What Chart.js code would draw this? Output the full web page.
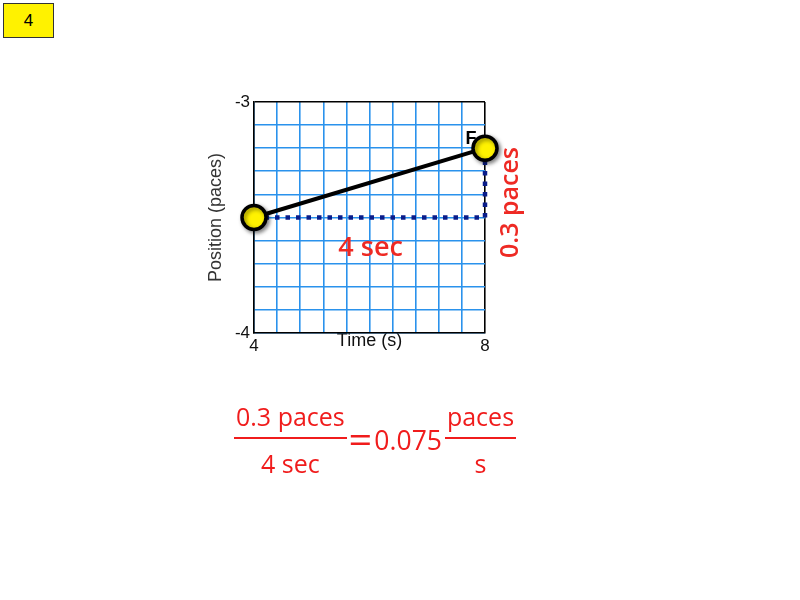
<!DOCTYPE html>
<html>
<head>
<meta charset="utf-8">
<script src="https://cdn.jsdelivr.net/npm/chart.js@4.4.1/dist/chart.umd.min.js"></script>
<style>
    body { margin: 0; background: #fff; }
    #wrap { position: relative; width: 800px; height: 600px; overflow: hidden; }
    #wrap canvas { position: absolute; left: 0; top: 0; }
    .badge {
        position: absolute; left: 3px; top: 3px; width: 51px; height: 35px;
        background: #fff200; border: 1px solid #333; box-sizing: border-box;
        font: 17px "Liberation Sans", Arial, sans-serif; color: #000;
        display: flex; align-items: center; justify-content: center;
    }
    .formula {
        position: absolute; left: 234px; top: 404px; display: flex; align-items: center;
        color: #f01c1c; font: 25px "Open Sans", sans-serif; line-height: 1;
    }
    .frac { display: flex; flex-direction: column; align-items: center; }
    .frac .num { padding: 0 2px 8px; border-bottom: 2px solid #f01c1c; }
    .frac .den { padding-top: 12px; }
    .eq { margin: 0 2px 0 3px; font-size: 36px; font-weight: 400; transform: scaleX(1.15); }
    .val { margin-left: 2px; margin-right: 3px; font-size: 26.5px; }
</style>
</head>
<body>
<div id="wrap">
    <canvas id="motionchart" width="800" height="600"></canvas>
    <div class="badge">4</div>
    <div class="formula">
        <div class="frac"><span class="num">0.3 paces</span><span class="den">4 sec</span></div>
        <span class="eq">=</span><span class="val">0.075</span>
        <div class="frac"><span class="num">paces</span><span class="den">s</span></div>
    </div>
</div>
<script>
"use strict";

/* data */
var timeLabels = [4, 8];
var positionLabels = [-3, -4];
var motionTime = [4, 8];
var motionPos = [-3.5, -3.2];
var pointNames = ['', 'F'];
var legTime = [4, 8, 8];
var legPos = [-3.5, -3.5, -3.2];

var gridBlue = '#2a92ec';
var red = '#ee2a24';

function near(a, b) { return Math.abs(a - b) < 1e-6; }

/* point shadow + text labels */
var extrasPlugin = {
    id: 'extras',
    beforeDatasetDraw: function (chart, args) {
        if (args.index === 0) {
            var ctx = chart.ctx;
            ctx.save();
            ctx.shadowColor = 'rgba(0,0,0,0.45)';
            ctx.shadowBlur = 4;
            ctx.shadowOffsetX = 2;
            ctx.shadowOffsetY = 2;
        }
    },
    afterDatasetDraw: function (chart, args) {
        if (args.index === 0) chart.ctx.restore();
    },
    afterDatasetsDraw: function (chart) {
        var ctx = chart.ctx;
        var x = chart.scales.x, y = chart.scales.y;
        var pts = chart.getDatasetMeta(0).data;
        ctx.save();
        ctx.fillStyle = '#000';
        ctx.font = 'bold 18px "Liberation Sans", Arial, sans-serif';
        ctx.textAlign = 'center';
        ctx.textBaseline = 'middle';
        pts.forEach(function (p, i) {
            if (pointNames[i]) ctx.fillText(pointNames[i], p.x - 14, p.y - 9);
        });
        ctx.fillStyle = red;
        ctx.font = '600 27px "Open Sans", sans-serif';
        ctx.fillText('4 sec', x.getPixelForValue(6.02), y.getPixelForValue(-3.635));
        ctx.font = '600 25px "Open Sans", sans-serif';
        ctx.translate(x.getPixelForValue(8) + 26, y.getPixelForValue(-3.435));
        ctx.rotate(-Math.PI / 2);
        ctx.fillText('0.3 paces', 0, 0);
        ctx.restore();
    }
};

var chartctx = document.getElementById('motionchart').getContext('2d');

var motionConfig = {
    type: 'line',
    data: {
        datasets: [{
            label: 'markers',
            data: motionTime.map(function (t, i) { return { x: t, y: motionPos[i] }; }),
            showLine: false,
            clip: false,
            pointRadius: 12,
            pointBackgroundColor: '#fff200',
            pointBorderColor: '#000',
            pointBorderWidth: 3.5,
            order: 0
        },
        {
            label: 'motion',
            data: motionTime.map(function (t, i) { return { x: t, y: motionPos[i] }; }),
            borderColor: '#000',
            borderWidth: 4,
            pointRadius: 0,
            clip: false,
            fill: false,
            tension: 0,
            order: 1
        },
        {
            label: 'legs',
            data: legTime.map(function (t, i) { return { x: t, y: legPos[i] }; }),
            borderColor: '#0a1d8a',
            borderWidth: 4.5,
            borderDash: [4.5, 6],
            borderCapStyle: 'butt',
            borderJoinStyle: 'miter',
            pointRadius: 0,
            clip: false,
            fill: false,
            tension: 0,
            order: 2
        }]
    },
    options: {
        responsive: false,
        animation: false,
        layout: {
            padding: { left: 205, top: 102, right: 315, bottom: 248 }
        },
        plugins: {
            legend: { display: false },
            tooltip: { enabled: false }
        },
        scales: {
            x: {
                type: 'linear',
                min: 4,
                max: 8,
                afterFit: function (scale) { scale.height = 19; },
                ticks: {
                    stepSize: 0.4,
                    autoSkip: false,
                    maxRotation: 0,
                    padding: 3,
                    color: '#111',
                    font: { family: '"Liberation Sans", Arial, sans-serif', size: 17 },
                    callback: function (v) {
                        return timeLabels.some(function (t) { return near(t, v); }) ? String(Math.round(v)) : '';
                    }
                },
                grid: {
                    drawTicks: false,
                    lineWidth: 1.6,
                    color: function (c) { return c.tick && near(c.tick.value, 8) ? '#000' : gridBlue; }
                },
                border: { color: '#000', width: 1.6 },
                title: {
                    display: true,
                    text: 'Time (s)',
                    color: '#111',
                    padding: 0,
                    font: { family: '"Liberation Sans", Arial, sans-serif', size: 18 }
                }
            },
            y: {
                type: 'linear',
                min: -4,
                max: -3,
                afterFit: function (scale) { scale.width = 49; },
                ticks: {
                    stepSize: 0.1,
                    autoSkip: false,
                    padding: 4,
                    color: '#111',
                    font: { family: '"Liberation Sans", Arial, sans-serif', size: 17 },
                    callback: function (v) {
                        return positionLabels.some(function (p) { return near(p, v); }) ? String(Math.round(v)) : '';
                    }
                },
                grid: {
                    drawTicks: false,
                    lineWidth: 1.6,
                    color: function (c) { return c.tick && near(c.tick.value, -3) ? '#000' : gridBlue; }
                },
                border: { color: '#000', width: 1.6 },
                title: {
                    display: true,
                    text: 'Position (paces)',
                    color: '#333',
                    padding: 0,
                    font: { family: '"Liberation Sans", Arial, sans-serif', size: 18 }
                }
            }
        }
    },
    plugins: [extrasPlugin]
};
var motionChart = new Chart(chartctx, motionConfig);
</script>
</body>
</html>
